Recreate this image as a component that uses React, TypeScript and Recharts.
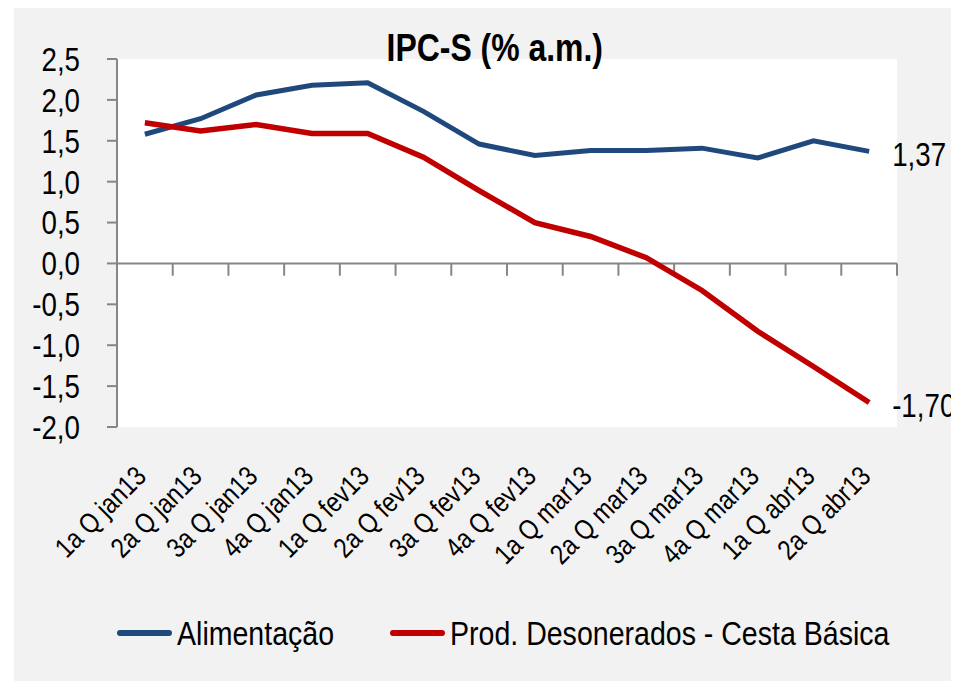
import {
  LineChart,
  Line,
  XAxis,
  YAxis,
  CartesianGrid,
  ReferenceLine,
  Legend,
} from "recharts";

const categories = [
  "1a Q jan13",
  "2a Q jan13",
  "3a Q jan13",
  "4a Q jan13",
  "1a Q fev13",
  "2a Q fev13",
  "3a Q fev13",
  "4a Q fev13",
  "1a Q mar13",
  "2a Q mar13",
  "3a Q mar13",
  "4a Q mar13",
  "1a Q abr13",
  "2a Q abr13",
];

const alimentacao = [1.58, 1.77, 2.06, 2.18, 2.21, 1.86, 1.46, 1.32, 1.38, 1.38, 1.41, 1.29, 1.5, 1.37];
const desonerados = [1.72, 1.62, 1.7, 1.59, 1.59, 1.3, 0.89, 0.5, 0.33, 0.07, -0.33, -0.83, -1.26, -1.7];

const yTicks = [-2, -1.5, -1, -0.5, 0, 0.5, 1, 1.5, 2, 2.5];

// Calibri-ish look: Liberation Sans squeezed horizontally
const FONT = '"Liberation Sans", Arial, sans-serif';
const SX = 0.84;
const BLUE = "#1F497D";
const RED = "#C00000";
const AXIS = "#868686";

const data = categories.map((name, i) => ({
  i,
  name,
  alimentacao: alimentacao[i],
  desonerados: desonerados[i],
}));

const fmt = (v: number, d = 1) => v.toFixed(d).replace(".", ",");

const NText = ({ x, y, anchor = "start", size, rotate = 0, baseline, children }: any) => (
  <g transform={`translate(${x},${y}) rotate(${rotate}) scale(${SX},1)`}>
    <text
      textAnchor={anchor}
      dominantBaseline={baseline}
      fontSize={size}
      fontFamily={FONT}
      fill="#000"
    >
      {children}
    </text>
  </g>
);

const XTick = ({ x, y, payload }: any) => (
  <NText x={x + 3} y={y + 49} anchor="end" size={28} rotate={-45}>
    {categories[payload.value]}
  </NText>
);

const YTick = ({ x, y, payload }: any) => (
  <NText x={x} y={y} anchor="end" size={33} baseline="central">
    {fmt(payload.value)}
  </NText>
);

const endLabel = (props: any) => {
  const { x, y, index, value } = props;
  if (index !== categories.length - 1) return null;
  return (
    <NText x={x + 23} y={y + 3} size={33} baseline="central">
      {fmt(value, 2)}
    </NText>
  );
};

const LegendContent = ({ payload }: any) => {
  const items = payload || [];
  const starts = [0, 273];
  return (
    <svg width={820} height={50} style={{ display: "block" }}>
      {items.map((p: any, k: number) => (
        <g key={k}>
          <line
            x1={starts[k] + 3}
            x2={starts[k] + 52}
            y1={25}
            y2={25}
            stroke={p.color}
            strokeWidth={6}
            strokeLinecap="round"
          />
          <NText x={starts[k] + 60} y={37} size={34}>
            {p.value}
          </NText>
        </g>
      ))}
    </svg>
  );
};

export default function App() {
  return (
    <div
      style={{
        position: "relative",
        marginLeft: 6,
        width: 945,
        height: 673,
        background: "#F2F2F2",
      }}
    >
      <div
        style={{
          position: "absolute",
          left: 0,
          width: 962,
          top: 18,
          textAlign: "center",
          zIndex: 1,
          lineHeight: "44px",
        }}
      >
        <span
          style={{
            display: "inline-block",
            transform: `scaleX(${SX})`,
            fontFamily: FONT,
            fontWeight: "bold",
            fontSize: 38,
            color: "#000",
          }}
        >
          IPC-S (% a.m.)
        </span>
      </div>
      <LineChart width={945} height={673} data={data} margin={{ top: 51, right: 62, bottom: 124, left: 0 }}>
        <CartesianGrid fill="#FFFFFF" stroke="none" horizontal={false} vertical={false} />
        <XAxis
          dataKey="i"
          type="number"
          domain={[-0.5, 13.5]}
          ticks={data.map((d) => d.i)}
          interval={0}
          height={130}
          axisLine={false}
          tickLine={false}
          tickSize={0}
          tick={<XTick />}
        />
        <YAxis
          domain={[-2, 2.5]}
          ticks={yTicks}
          width={103}
          axisLine={{ stroke: AXIS, strokeWidth: 2 }}
          tickLine={{ stroke: AXIS, strokeWidth: 2 }}
          tickSize={10}
          tickMargin={27}
          tick={<YTick />}
          interval={0}
        />
        <ReferenceLine y={0} stroke={AXIS} strokeWidth={2} />
        {data.map((d) => (
          <ReferenceLine
            key={`tk-${d.i}`}
            segment={[
              { x: d.i + 0.5, y: 0 },
              { x: d.i + 0.5, y: -0.15 },
            ]}
            stroke={AXIS}
            strokeWidth={2}
          />
        ))}
        <Legend
          layout="horizontal"
          verticalAlign="middle"
          align="center"
          content={<LegendContent />}
          wrapperStyle={{ top: 600, left: 103, width: "auto" }}
        />
        <Line
          type="linear"
          dataKey="alimentacao"
          name="Alimentação"
          stroke={BLUE}
          strokeWidth={5}
          dot={false}
          isAnimationActive={false}
          label={endLabel}
        />
        <Line
          type="linear"
          dataKey="desonerados"
          name="Prod. Desonerados - Cesta Básica"
          stroke={RED}
          strokeWidth={5.5}
          dot={false}
          isAnimationActive={false}
          label={endLabel}
        />
      </LineChart>
    </div>
  );
}
